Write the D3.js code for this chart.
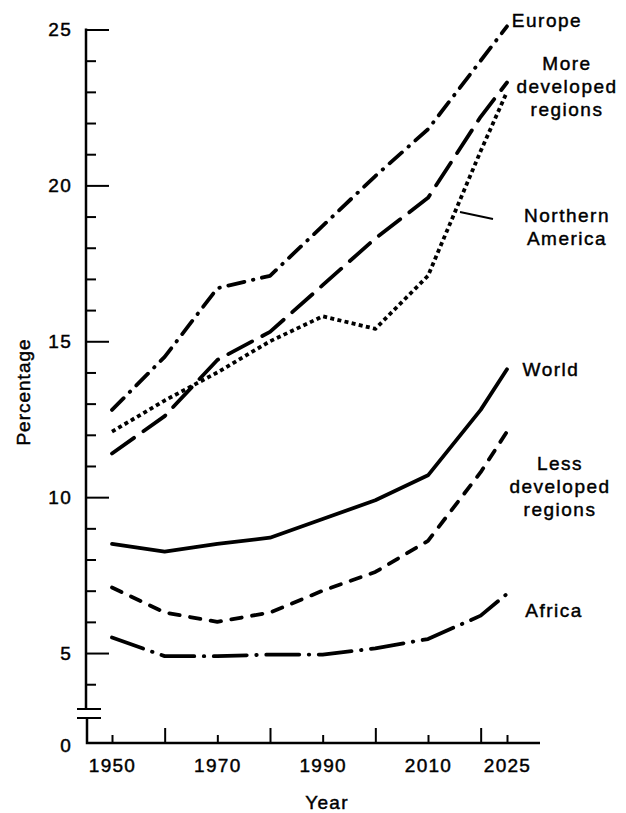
<!DOCTYPE html>
<html><head><meta charset="utf-8">
<script src="https://cdn.jsdelivr.net/npm/d3@7"></script>
<style>
body{margin:0;background:#fff}
svg{display:block}
text{font-family:"Liberation Sans",Arial,sans-serif;fill:#000;stroke:#000;stroke-width:0.45px}
</style></head>
<body><svg id="c" width="626" height="813"></svg>
<script>
// ---- data ----
const years = [1950, 1960, 1970, 1980, 1990, 2000, 2010, 2020, 2025];
const europe          = [12.8, 14.5, 16.7, 17.1, 18.7, 20.3, 21.8, 24.0, 25.1];
const moreDeveloped   = [11.4, 12.6, 14.4, 15.3, 16.8, 18.3, 19.6, 22.2, 23.3];
const northernAmerica = [12.1, 13.1, 14.0, 15.0, 15.8, 15.4, 17.1, 21.1, 23.0];
const world           = [8.5, 8.25, 8.5, 8.7, 9.3, 9.9, 10.7, 12.8, 14.1];
const lessDeveloped   = [7.1, 6.3, 6.0, 6.3, 7.0, 7.6, 8.6, 10.8, 12.1];
const africa          = [5.5, 4.9, 4.9, 4.95, 4.95, 5.15, 5.45, 6.2, 6.9];
const yMajorTicks = [5, 10, 15, 20, 25];
const xTickYears = [1950, 1960, 1970, 1980, 1990, 2000, 2010, 2020, 2025];
const xLabelYears = [1950, 1970, 1990, 2010, 2025];
const yTitle = "Percentage";
const xTitle = "Year";

// ---- layout ----
const svg = d3.select("#c");
const axisX = 86, baseY = 743;
const FS = 19, LS = 1.3;
const x = d3.scaleLinear().domain([1950, 2025]).range([112, 507]);
const y = d3.scaleLinear().domain([0, 3, 25]).range([baseY, 715.4, 29.5]);

// y axis ticks
const gy = svg.append("g").attr("transform", `translate(${axisX},0)`);
gy.append("g").call(d3.axisRight(y).tickValues(yMajorTicks).tickSize(23).tickFormat(""));
gy.append("g").call(d3.axisRight(y).tickValues(d3.range(4, 25).filter(v => v % 5 !== 0)).tickSize(10).tickFormat(""));
gy.selectAll(".domain").remove();
gy.selectAll(".tick line").attr("stroke", "#000").attr("stroke-width", 2);

svg.append("g").selectAll("text").data(yMajorTicks.concat([0])).join("text")
  .attr("x", axisX - 14).attr("y", d => y(d) + (d === 0 ? 2 : 0)).attr("dy", "0.36em")
  .attr("text-anchor", "end").attr("font-size", FS).attr("letter-spacing", LS).text(d => d);

// axis lines with break
svg.append("path")
  .attr("d", `M${axisX},${y(25) - 1}V709M${axisX + 1},718V${baseY}H540`)
  .attr("fill", "none").attr("stroke", "#000").attr("stroke-width", 2.5);
svg.append("path")
  .attr("d", `M${axisX - 9},709H${axisX + 15}M${axisX - 9},718H${axisX + 15}`)
  .attr("fill", "none").attr("stroke", "#000").attr("stroke-width", 2.2);

// x axis ticks
const gx = svg.append("g").attr("transform", `translate(0,${baseY})`);
gx.append("g").call(d3.axisBottom(x).tickValues(xTickYears.filter(v => !xLabelYears.includes(v))).tickSizeInner(-15).tickSizeOuter(0).tickFormat(""));
gx.append("g").call(d3.axisBottom(x).tickValues(xLabelYears).tickSizeInner(-8).tickSizeOuter(0).tickPadding(16).tickFormat(d3.format("d")));
gx.selectAll(".domain").remove();
gx.selectAll(".tick line").attr("stroke", "#000").attr("stroke-width", 2);
gx.selectAll("g").attr("font-family", null).attr("font-size", null);
gx.selectAll(".tick text").attr("font-size", FS).attr("letter-spacing", LS).attr("fill", "#000");

// titles
svg.append("text").attr("transform", "translate(30,392) rotate(-90)")
  .attr("text-anchor", "middle").attr("font-size", FS).attr("letter-spacing", 1).text(yTitle);
svg.append("text").attr("x", 327).attr("y", 809)
  .attr("text-anchor", "middle").attr("font-size", FS).attr("letter-spacing", LS).text(xTitle);

// series
const series = [
  {values: europe,          dash: "16.5,8.75,0.5,8.75", cap: "round"},
  {values: moreDeveloped,   dash: "27,11.5",            cap: "round"},
  {values: northernAmerica, dash: "4,3.3",              cap: "butt"},
  {values: world,           dash: null,                 cap: "round"},
  {values: lessDeveloped,   dash: "10.5,10.5",          cap: "round"},
  {values: africa,          dash: "33,9.5,0.5,9.5",     cap: "round"}
];
const line = d3.line().x(d => x(d[0])).y(d => y(d[1]));
svg.append("g").selectAll("path").data(series).join("path")
  .attr("d", s => line(years.map((yr, i) => [yr, s.values[i]])))
  .attr("fill", "none").attr("stroke", "#000").attr("stroke-width", 3.8)
  .attr("stroke-linecap", s => s.cap).attr("stroke-linejoin", "round")
  .attr("stroke-dasharray", s => s.dash);

// series labels
const labels = [
  {lines: ["Europe"], cx: 547, y0: 27},
  {lines: ["More", "developed", "regions"], cx: 567, y0: 70},
  {lines: ["Northern", "America"], cx: 567, y0: 222},
  {lines: ["World"], cx: 551, y0: 376},
  {lines: ["Less", "developed", "regions"], cx: 560, y0: 470},
  {lines: ["Africa"], cx: 554, y0: 617}
];
const lg = svg.append("g");
labels.forEach(l => {
  const t = lg.append("text").attr("text-anchor", "middle").attr("font-size", FS).attr("letter-spacing", 1.5);
  l.lines.forEach((s, i) => t.append("tspan").attr("x", l.cx).attr("y", l.y0 + i * 23).text(s));
});
// leader line for Northern America
svg.append("line").attr("x1", 460).attr("y1", 212).attr("x2", 493).attr("y2", 219)
  .attr("stroke", "#000").attr("stroke-width", 1.8);
</script></body></html>
